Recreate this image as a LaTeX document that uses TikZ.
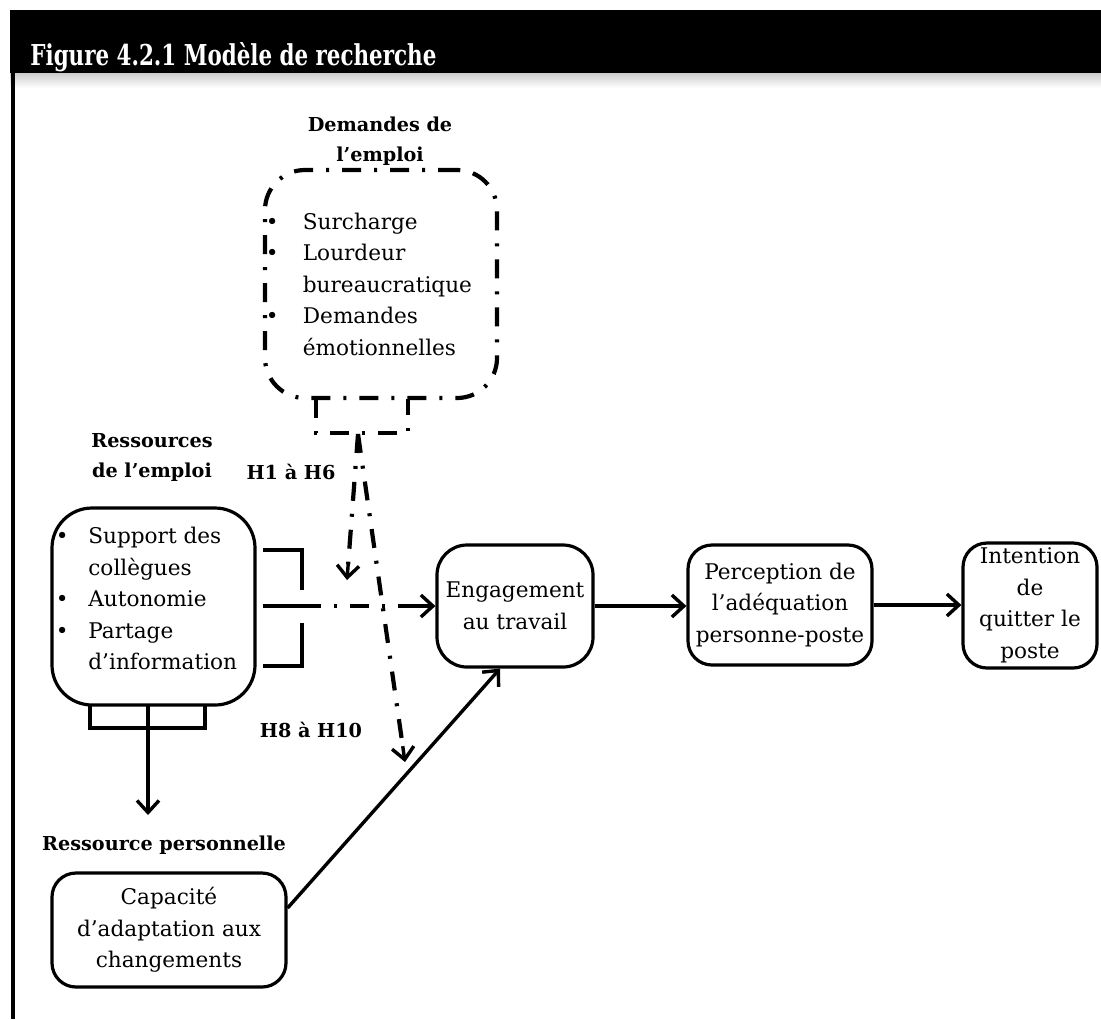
\documentclass[tikz,border=0pt]{standalone}
\usepackage{fontspec}
\usepackage{graphicx}
\setmainfont{DejaVu Serif}
\usetikzlibrary{arrows.meta,calc}

% bullet set in a box of given width
\newcommand\blt[1]{\makebox[#1][l]{\textbullet}}

\tikzset{
  every node/.style={font=\fontsize{10.8}{15.75}\selectfont, inner sep=0pt},
  box/.style={draw, line width=1.6pt, rounded corners=12pt, align=center},
  lbl/.style={font=\fontsize{9.6}{15}\selectfont\bfseries, align=center},
  arr/.style={-{Straight Barb[length=6pt,width=11pt,line width=1.7pt]}, line width=1.7pt},
  dd/.style={line width=2.1pt, dash pattern=on 9.5pt off 6.5pt on 1.5pt off 6.5pt},
  brk/.style={line width=2.1pt},
}

\begin{document}
\begin{tikzpicture}[x=0.5pt,y=-0.5pt]
\useasboundingbox (0,0) rectangle (1101,1019);

% header bar with its soft shadow and the left frame rule
\fill[black] (10,10) rectangle (1101,73);
\shade[top color=black!20, bottom color=white] (10,73) rectangle (1101,88);
\node[anchor=base west, text=white] (title) at (30,65)
  {\resizebox{203pt}{11.5pt}{\bfseries Figure 4.2.1 Modèle de recherche}};
\draw[line width=1.6pt] (13,73) -- (13,1019);

% job demands
\node[lbl] (demtitle) at (380,141) {Demandes de\\l’emploi};
\node[box, dd, rounded corners=20pt, minimum width=116pt, minimum height=114pt] (dem) at (381,284) {};
\node[anchor=west, align=left] (demlist) at (265.5,284)
  {\blt{18.5pt}Surcharge\\
   \blt{18.5pt}Lourdeur\\
   \hspace*{18.5pt}bureaucratique\\
   \blt{18.5pt}Demandes\\
   \hspace*{18.5pt}émotionnelles};
\coordinate (dbl) at (316,399);
\coordinate (dbr) at (408,399);
\coordinate (dhub) at (358,434);
\draw[dd] (dbl) -- (316,433) -- (408,433) -- (dbr);
\coordinate (h1tip) at (347,580);
\coordinate (h8tip) at (405,762);
% dash-dot connectors, each closed by a solid arrow tip
\coordinate (h1end) at ($(h1tip)!8pt!(dhub)$);
\coordinate (h8end) at ($(h8tip)!8pt!(dhub)$);
\draw[dd] (dhub) -- (h1end);
\draw[arr] (h1end) -- (h1tip);
\draw[dd] (dhub) -- (h8end);
\draw[arr] (h8end) -- (h8tip);

% job resources
\node[lbl] (restitle) at (152,457) {Ressources\\de l’emploi};
\node[lbl] (h16) at (291,472) {H1 à H6};
\node[box, rounded corners=20pt, minimum width=101.5pt, minimum height=98.5pt] (res) at (153.5,606.5) {};
\node[anchor=west, align=left] (reslist) at (55.5,598.5)
  {\blt{16.25pt}Support des\\
   \hspace*{16.25pt}collègues\\
   \blt{16.25pt}Autonomie\\
   \blt{16.25pt}Partage\\
   \hspace*{16.25pt}d’information};

% bracket on the right of the resources
\coordinate (rj) at (302,606);
\draw[brk] (263,550) -- (302,550) -- (302,590);
\draw[brk] (302,623) -- (302,666) -- (263,666);
\draw[brk] (263,606) -- (rj);

% bracket under the resources
\coordinate (rdown) at (148,705);
\coordinate (rtip) at (148,815);
\draw[brk] (90,705) -- (90,728) -- (205,728) -- (205,705);
\draw[arr] (rdown) -- (rtip);

\node[lbl] (h810) at (311,730) {H8 à H10};

% personal resource
\node[lbl] (perslbl) at (164,845) {Ressource personnelle};
\node[box, minimum width=117pt, minimum height=57pt] (cap) at (169,930)
  {Capacité\\d’adaptation aux\\changements};

% outcome chain
\node[box, rounded corners=15pt, minimum width=78pt, minimum height=61pt] (eng) at (515,606)
  {Engagement\\au travail};
\node[box, minimum width=92pt, minimum height=60pt] (perc) at (780,605)
  {Perception de\\l’adéquation\\personne-poste};
\node[box, minimum width=67pt, minimum height=62.5pt] (int) at (1030,605.5)
  {Intention\\de\\quitter le\\poste};

\coordinate (rjend) at ($(rj -| eng.west)+(-24,0)$);
\draw[dd] (rj) -- (rjend);
\draw[arr] (rjend) -- (rj -| eng.west);
\draw[arr] (eng.east) -- (eng.east -| perc.west);
\draw[arr] (perc.east) -- (perc.east -| int.west);
\draw[arr] ($(cap.east)+(0,-22)$) -- ($(eng.south)+(-15,0)$);
\end{tikzpicture}
\end{document}
